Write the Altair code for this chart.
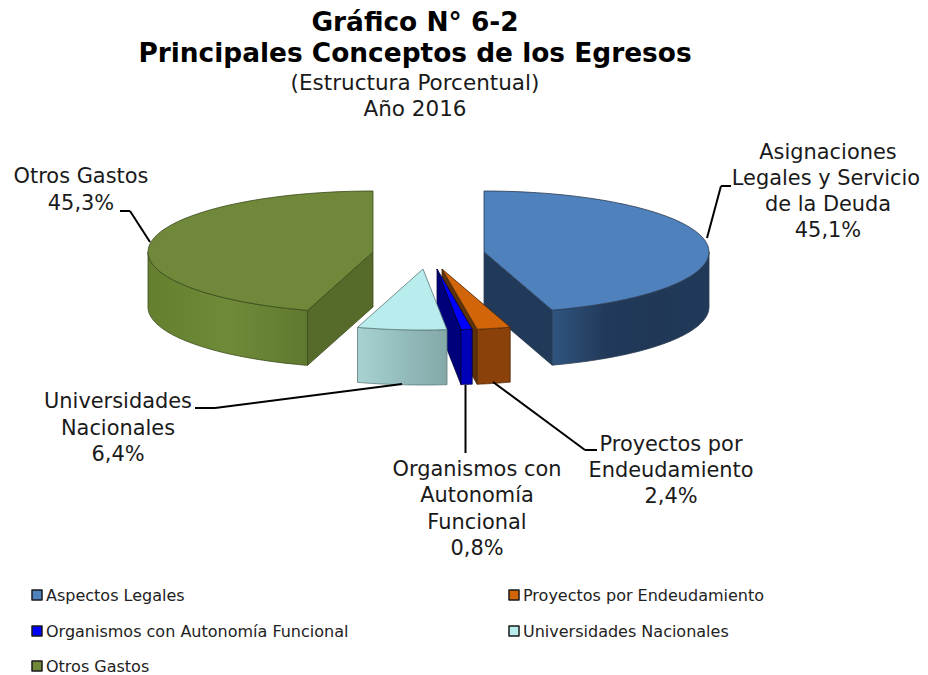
import math
import altair as alt

categories = ["Aspectos Legales", "Proyectos por Endeudamiento", "Organismos con Autonomía Funcional", "Universidades Nacionales", "Otros Gastos"]
shares = [45.1, 2.4, 0.8, 6.4, 45.3]
slice_labels = [
    ["Asignaciones", "Legales y Servicio", "de la Deuda", "45,1%"],
    ["Proyectos por", "Endeudamiento", "2,4%"],
    ["Organismos con", "Autonomía", "Funcional", "0,8%"],
    ["Universidades", "Nacionales", "6,4%"],
    ["Otros Gastos", "45,3%"],
]
title_lines = ["Gráfico N° 6-2", "Principales Conceptos de los Egresos"]
subtitle_lines = ["(Estructura Porcentual)", "Año 2016"]

W, H = 912, 667
OX, OY = 8, 8
RX, RY, DEPTH = 225.0, 61.0, 55.0
FONT = "DejaVu Sans"
INK = "#1a1a1a"

apexes = [(484, 252), (442, 269), (437, 269), (423, 269), (373, 252)]
tops = ["#4F81BD", "#D2640A", "#0000FF", "#B9ECEC", "#70883A"]
cuts = ["#223A5A", "#5E3208", "#00007A", None, "#566A2A"]
fronts = [
    ["#2F5580", "#223A5A", "#203856", "#223A5A"],
    ["#8A420A", "#8A420A"],
    ["#0000B8", "#0000B8"],
    ["#A8D2D2", "#94BCBC", "#84A8A8"],
    ["#64802F", "#6F8A38", "#5F7A2F"],
]
strokes = ["#2b3a50", "#4a2606", "#00003a", "#5c7878", "#3b4a1c"]


def pt(c, deg, drop=0.0):
    a = math.radians(deg)
    return [c[0] + RX * math.sin(a) - OX, c[1] - RY * math.cos(a) + drop - OY]


def arc(c, a0, a1, drop=0.0, n=60):
    return [pt(c, a0 + (a1 - a0) * i / n, drop) for i in range(n + 1)]


def shape(ring):
    ring = ring + [ring[0]]
    return {"type": "Feature", "properties": {}, "geometry": {"type": "Polygon", "coordinates": [ring]}}


def face(ring, fill, stroke, width=0.8):
    return alt.Chart(alt.InlineData(values=[shape(ring)])).mark_geoshape(
        fill=fill, stroke=stroke, strokeWidth=width, strokeJoin="round"
    ).project(type="identity", scale=1, translate=[0, 0])


def grad(colors):
    n = len(colors) - 1
    return alt.Gradient(
        gradient="linear", x1=0, y1=0, x2=1, y2=0,
        stops=[alt.GradientStop(offset=i / n, color=col) for i, col in enumerate(colors)],
    )


angles = []
acc = 0.0
for s in shares:
    angles.append((acc * 3.6, (acc + s) * 3.6))
    acc += s

faces = {}
for i, ((a0, a1), c) in enumerate(zip(angles, apexes)):
    parts = []
    centre = [c[0] - OX, c[1] - OY]
    low = [centre[0], centre[1] + DEPTH]
    # flat side wall that faces the viewer
    if cuts[i]:
        edge = a1 if i in (1, 2, 0) else a0
        p, q = pt(c, edge), pt(c, edge, DEPTH)
        parts.append(face([centre, p, q, low], cuts[i], strokes[i]))
    # curved front wall: only the part of the rim that points down
    f0, f1 = max(a0, 90), min(a1, 270)
    parts.append(face(arc(c, f0, f1) + arc(c, f1, f0, DEPTH), grad(fronts[i]), strokes[i]))
    # top face
    parts.append(face([centre] + arc(c, a0, a1), tops[i], strokes[i]))
    faces[i] = parts

layers = []
for i in (4, 0, 1, 2, 3):
    layers += faces[i]


def txt(lines, x, y0, dy, size, bold=False, align="center", color=INK):
    out = []
    for k, line in enumerate(lines):
        out.append(
            alt.Chart(alt.InlineData(values=[{"t": line}])).mark_text(
                font=FONT, fontSize=size, fontWeight="bold" if bold else "normal",
                align=align, baseline="alphabetic", color=color,
            ).encode(x=alt.value(x - OX), y=alt.value(y0 + k * dy - OY), text="t:N")
        )
    return out


def leader(points):
    out = []
    for (x0, y0), (x1, y1) in zip(points, points[1:]):
        out.append(
            alt.Chart(alt.InlineData(values=[{"k": 0}])).mark_rule(color="#000000", strokeWidth=2).encode(
                x=alt.value(x0 - OX), x2=alt.value(x1 - OX), y=alt.value(y0 - OY), y2=alt.value(y1 - OY)
            )
        )
    return out


layers += leader([(707, 238), (721, 186), (731, 186)])
layers += leader([(150, 242), (130, 211), (120, 211)])
layers += leader([(402, 384), (215, 408), (195, 408)])
layers += leader([(465.5, 385), (465.5, 453)])
layers += leader([(493, 382), (585, 450), (597, 450)])

layers += txt(title_lines, 415, 31, 31, 26.4, bold=True, color="#000000")
layers += txt(subtitle_lines, 415, 90, 26, 21.5)
layers += txt(slice_labels[0][:1], 828, 159, 26, 20.9)
layers += txt(slice_labels[0][1:2], 826, 185, 26, 20.9)
layers += txt(slice_labels[0][2:], 828, 211, 26, 20.9)
layers += txt(slice_labels[1], 671, 451, 26, 20.9)
layers += txt(slice_labels[2], 477, 476, 26.3, 20.9)
layers += txt(slice_labels[3], 118, 408, 26.5, 20.9)
layers += txt(slice_labels[4], 81, 183, 26.5, 20.9)

legend_pos = [(32, 595), (509, 595), (32, 631), (509, 631), (32, 666)]
for name, (lx, ly), col in zip(categories, legend_pos, tops):
    sq = [[lx - OX, ly - 5 - OY], [lx + 10 - OX, ly - 5 - OY], [lx + 10 - OX, ly + 5 - OY], [lx - OX, ly + 5 - OY]]
    layers.append(face(sq, col, "#1a1a1a", 1.5))
    layers += txt([name], lx + 14, ly + 6, 0, 16, align="left", color="#222222")

chart = alt.layer(*layers).properties(
    width=W, height=H, padding=0, autosize=alt.AutoSizeParams(type="none"),
    background="#ffffff",
).configure_view(stroke=None)

chart.save("out.html", embed_options={"renderer": "svg", "actions": False})
